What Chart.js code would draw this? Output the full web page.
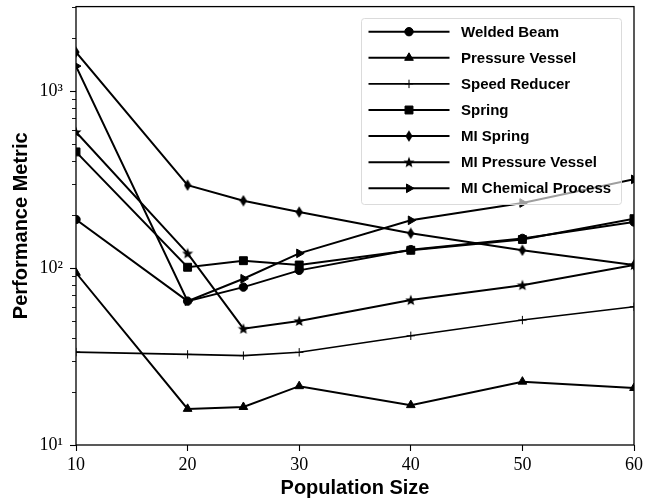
<!DOCTYPE html>
<html>
<head>
<meta charset="utf-8">
<title>Performance Metric vs Population Size</title>
<script src="https://cdn.jsdelivr.net/npm/chart.js@4.4.0/dist/chart.umd.min.js"></script>
<style>
  body { margin: 0; background: #fff; }
  canvas { display: block; }
</style>
</head>
<body>
<canvas id="perfChart" width="646" height="504"></canvas>
<script>
// Data
const popSizes = [10, 20, 25, 30, 40, 50, 60];
const weldedBeam = [188, 65, 78, 97, 127, 147, 182];
const pressureVessel = [94, 16, 16.4, 21.5, 16.8, 22.8, 21];
const speedReducer = [33.5, 32.5, 32, 33.4, 41.4, 50.8, 60.4];
const spring = [453, 101, 110, 104, 126, 145, 190];
const miSpring = [1660, 294, 240, 207, 157, 126, 104];
const miPressureVessel = [587, 121, 45.4, 50.2, 65.9, 80, 104];
const miChemicalProcess = [1384, 65, 87, 121, 186, 233, 317];

const seriesNames = ['Welded Beam', 'Pressure Vessel', 'Speed Reducer', 'Spring',
  'MI Spring', 'MI Pressure Vessel', 'MI Chemical Process'];

const xTicks = [10, 20, 30, 40, 50, 60];
const yMajorTicks = [10, 100, 1000];
const yMajorLabels = ['10\u00B9', '10\u00B2', '10\u00B3'];
const yMinorTicks = [20, 30, 40, 50, 60, 70, 80, 90, 200, 300, 400, 500, 600, 700, 800, 900, 2000, 3000];

// custom marker shapes (thin diamond and filled star)
function makeDiamond() {
  const c = document.createElement('canvas');
  c.width = 8; c.height = 12;
  const g = c.getContext('2d');
  g.fillStyle = '#000';
  g.beginPath();
  g.moveTo(4, 0.3); g.lineTo(7.6, 6); g.lineTo(4, 11.7); g.lineTo(0.4, 6);
  g.closePath(); g.fill();
  return c;
}

function makeStar() {
  const c = document.createElement('canvas');
  c.width = 12; c.height = 12;
  const g = c.getContext('2d');
  g.fillStyle = '#000';
  g.beginPath();
  for (let i = 0; i < 10; i++) {
    const r = i % 2 === 0 ? 5.8 : 2.5;
    const a = -Math.PI / 2 + i * Math.PI / 5;
    const px = 6 + r * Math.cos(a), py = 6.4 + r * Math.sin(a);
    if (i === 0) g.moveTo(px, py); else g.lineTo(px, py);
  }
  g.closePath(); g.fill();
  return c;
}

const markers = [
  { pointStyle: 'circle', radius: 4.2, rotation: 0 },
  { pointStyle: 'triangle', radius: 5, rotation: 0 },
  { pointStyle: 'cross', radius: 4.2, rotation: 0 },
  { pointStyle: 'rect', radius: 5.6, rotation: 0 },
  { pointStyle: makeDiamond(), radius: 5, rotation: 0 },
  { pointStyle: makeStar(), radius: 5, rotation: 0 },
  { pointStyle: 'triangle', radius: 5, rotation: 90 }
];

const seriesValues = [weldedBeam, pressureVessel, speedReducer, spring,
  miSpring, miPressureVessel, miChemicalProcess];

const datasets = seriesValues.map((vals, i) => ({
  label: seriesNames[i],
  data: popSizes.map((x, j) => ({ x: x, y: vals[j] })),
  borderColor: '#000',
  backgroundColor: '#000',
  borderWidth: i === 2 ? 1.6 : 2,
  pointStyle: markers[i].pointStyle,
  pointRadius: markers[i].radius,
  pointRotation: markers[i].rotation,
  pointBorderWidth: 1,
  pointHoverRadius: markers[i].radius,
  clip: 0,
  tension: 0
}));

// frame, minor ticks and the legend drawn over the lines
const extrasPlugin = {
  id: 'extras',
  afterDatasetsDraw(chart) {
    const ctx = chart.ctx;
    const area = chart.chartArea;
    const yScale = chart.scales.y;
    ctx.save();

    // minor log ticks
    ctx.strokeStyle = '#000';
    ctx.lineWidth = 0.9;
    yMinorTicks.forEach(v => {
      const py = Math.round(yScale.getPixelForValue(v)) + 0.5;
      ctx.beginPath();
      ctx.moveTo(area.left - 4, py);
      ctx.lineTo(area.left, py);
      ctx.stroke();
    });

    // full frame
    ctx.lineWidth = 1.3;
    ctx.strokeRect(area.left, area.top, area.right - area.left, area.bottom - area.top);

    // legend
    const lx = 361.5, ly = 18.5, lw = 260, lh = 186;
    ctx.beginPath();
    ctx.roundRect(lx, ly, lw, lh, 3);
    ctx.fillStyle = 'rgba(255,255,255,0.62)';
    ctx.fill();
    ctx.strokeStyle = 'rgba(215,215,215,0.9)';
    ctx.lineWidth = 1;
    ctx.stroke();

    ctx.font = 'bold 15px "Liberation Sans", Arial, sans-serif';
    ctx.textBaseline = 'middle';
    ctx.textAlign = 'left';
    chart.data.datasets.forEach((ds, i) => {
      const rowY = 31.7 + i * 26.1;
      ctx.strokeStyle = '#000';
      ctx.fillStyle = '#000';
      ctx.lineWidth = ds.borderWidth;
      ctx.beginPath();
      ctx.moveTo(368.5, rowY);
      ctx.lineTo(449.5, rowY);
      ctx.stroke();
      ctx.lineWidth = 1;
      Chart.helpers.drawPoint(ctx, {
        pointStyle: ds.pointStyle,
        radius: ds.pointRadius,
        rotation: ds.pointRotation,
        borderWidth: 1
      }, 409, rowY);
      ctx.fillStyle = '#000';
      ctx.fillText(ds.label, 461, rowY + 1);
    });
    ctx.restore();
  }
};

const serifFont = { family: '"Liberation Serif", "DejaVu Serif", serif', size: 18 };
const titleFont = { family: '"Liberation Sans", Arial, sans-serif', size: 20, weight: 'bold' };

new Chart(document.getElementById('perfChart'), {
  type: 'line',
  data: { datasets: datasets },
  options: {
    responsive: false,
    animation: false,
    devicePixelRatio: 1,
    layout: { padding: { left: 0, top: 6, right: 12, bottom: 0 } },
    plugins: {
      legend: { display: false },
      tooltip: { enabled: false }
    },
    scales: {
      x: {
        type: 'linear',
        min: 10,
        max: 60,
        afterBuildTicks: scale => { scale.ticks = xTicks.map(v => ({ value: v })); },
        afterFit: scale => {
          scale.height = 59;
          scale.paddingLeft = 0;
          scale.paddingRight = 0;
        },
        grid: { drawOnChartArea: false, tickLength: 6, tickColor: '#000', tickWidth: 1.1 },
        border: { display: false },
        ticks: { color: '#000', font: serifFont, padding: 3, maxRotation: 0 },
        title: { display: true, text: 'Population Size', color: '#000', font: titleFont, padding: { top: 0, bottom: 4 } }
      },
      y: {
        type: 'logarithmic',
        min: 10,
        max: 3000,
        afterBuildTicks: scale => { scale.ticks = yMajorTicks.map(v => ({ value: v, major: true })); },
        afterFit: scale => {
          scale.width = 76;
          scale.paddingTop = 0;
          scale.paddingBottom = 0;
        },
        grid: { drawOnChartArea: false, tickLength: 6, tickColor: '#000', tickWidth: 1.1 },
        border: { display: false },
        ticks: {
          color: '#000',
          font: serifFont,
          padding: 7,
          callback: value => {
            const k = yMajorTicks.indexOf(value);
            return k >= 0 ? yMajorLabels[k] : '';
          }
        },
        title: { display: true, text: 'Performance Metric', color: '#000', font: titleFont, padding: { top: 9, bottom: 0 } }
      }
    }
  },
  plugins: [extrasPlugin]
});
</script>
</body>
</html>
